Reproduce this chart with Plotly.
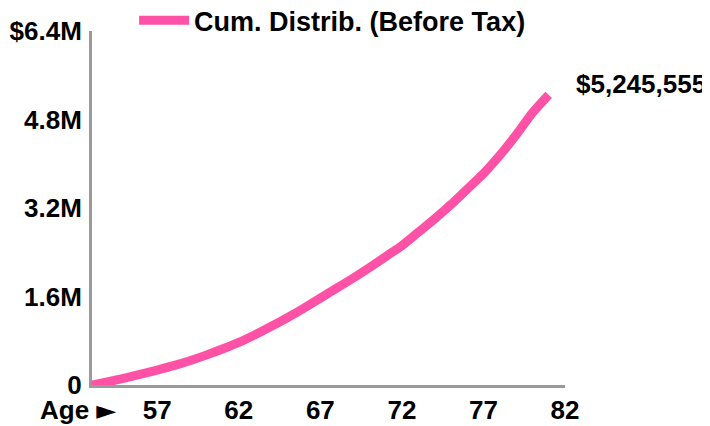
import plotly.graph_objects as go

# cumulative distributions before tax, by age
ages = list(range(53, 82))
cum_distrib = [
    0, 60000, 125000, 195000, 270000, 350000, 440000, 540000, 650000, 770000,
    910000, 1060000, 1220000, 1390000, 1570000, 1750000, 1930000, 2120000,
    2320000, 2520000, 2760000, 3000000, 3260000, 3540000, 3820000, 4150000,
    4520000, 4920000, 5245555,
]

y_ticks = [0, 1600000, 3200000, 4800000, 6400000]
y_labels = ["0", "1.6M", "3.2M", "4.8M", "$6.4M"]
x_ticks = [57, 62, 67, 72, 77, 82]
x_labels = ["57", "62", "67", "72", "77", "82"]

pink = "#ff52a6"
axis_grey = "#9a9a9a"
font_fam = "Arial, Liberation Sans, sans-serif"
bold26 = dict(family=font_fam, size=26, color="black", weight="bold")

fig = go.Figure()
fig.add_trace(go.Scatter(
    x=ages, y=cum_distrib,
    mode="lines",
    line=dict(color=pink, width=9, shape="spline", smoothing=0.6),
    name="Cum. Distrib. (Before Tax)",
))

# end-of-series value label
fig.add_annotation(
    x=ages[-1], y=cum_distrib[-1],
    text=f"${cum_distrib[-1]:,.0f}",
    showarrow=False, xanchor="left", yanchor="middle",
    xshift=25, yshift=11,
    font=bold26,
)

# "Age" marker on the x axis
fig.add_annotation(
    x=ages[0], y=0,
    text="Age <span style='font-family:DejaVu Sans'>►</span>",
    showarrow=False, xanchor="right", yanchor="middle",
    xshift=26, yshift=-25,
    font=bold26,
)

# page body has an 8px margin, so the figure is a bit smaller than the window
fig.update_layout(
    width=702, height=418,
    template=None,
    plot_bgcolor="white", paper_bgcolor="white",
    margin=dict(l=84, r=145, t=23, b=41, autoexpand=False),
    showlegend=True,
    legend=dict(
        orientation="h", x=0.089, y=0.96, xanchor="left", yanchor="bottom",
        font=dict(family=font_fam, size=27, color="black", weight="bold"),
        bgcolor="rgba(0,0,0,0)", itemwidth=50,
    ),
    font=bold26,
)

fig.update_xaxes(
    range=[53, 82], tickvals=x_ticks, ticktext=x_labels,
    showgrid=False, zeroline=False,
    showline=True, linecolor=axis_grey, linewidth=3,
    ticks="", ticklabelstandoff=0,
)
fig.update_yaxes(
    range=[0, 6400000], tickvals=y_ticks, ticktext=y_labels,
    showgrid=False, zeroline=False,
    showline=True, linecolor=axis_grey, linewidth=3,
    ticks="", ticklabelstandoff=2,
)

fig.write_html("out.html")
